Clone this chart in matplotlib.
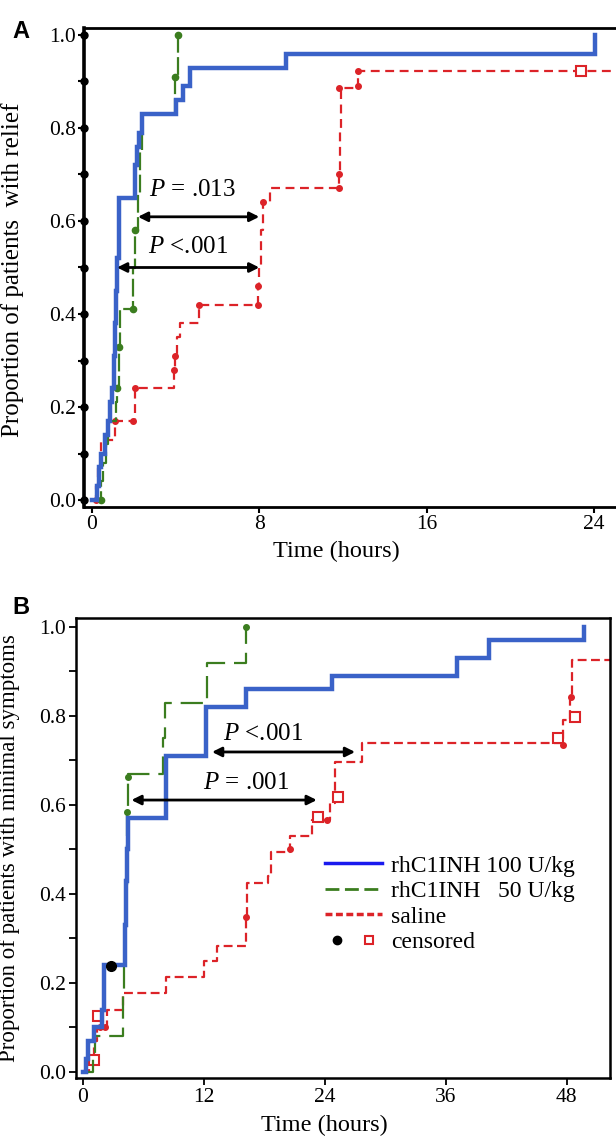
import numpy as np
import matplotlib
matplotlib.use("Agg")
import matplotlib.pyplot as plt
from matplotlib.lines import Line2D
from matplotlib.legend_handler import HandlerTuple

plt.rcParams['font.family'] = ['Liberation Serif', 'DejaVu Serif']
plt.rcParams['mathtext.fontset'] = 'custom'
plt.rcParams['mathtext.rm'] = 'Liberation Serif'
plt.rcParams['mathtext.it'] = 'Liberation Serif:italic'

BLUE = '#3a62c8'
GREEN = '#3b7d1f'
RED = '#dc2328'

# Panel A: time to onset of relief (hours) vs proportion
a_blue_t = [0, 0.25, 0.35, 0.45, 0.6, 0.75, 0.85, 0.95, 1.05, 1.1, 1.15, 1.2, 1.3,
            2.05, 2.15, 2.25, 2.4, 4.0, 4.35, 4.7, 9.3, 24.05]
a_blue_s = [0, 0.03, 0.07, 0.10, 0.14, 0.17, 0.21, 0.24, 0.31, 0.38, 0.45, 0.52, 0.65,
            0.72, 0.76, 0.79, 0.83, 0.86, 0.89, 0.93, 0.96, 1.0]

a_green_t = [0, 0.45, 0.55, 0.65, 0.75, 1.15, 1.2, 1.3, 1.35, 1.96, 2.06, 2.2, 2.3, 2.4,
             3.95, 4.1]
a_green_s = [0, 0.04, 0.08, 0.12, 0.17, 0.21, 0.24, 0.33, 0.41, 0.50, 0.58, 0.66, 0.75, 0.83,
             0.91, 1.0]
a_green_dot_t = [0.45, 1.2, 1.3, 1.96, 2.06, 3.95, 4.1]
a_green_dot_s = [0.0, 0.24, 0.33, 0.41, 0.58, 0.91, 1.0]

a_red_t = [0, 0.2, 0.3, 0.45, 1.1, 2.05, 3.9, 3.95, 4.05, 4.2, 5.1, 7.95, 8.0, 8.1, 8.2,
           8.5, 11.8, 11.85, 11.9, 12.7, 25.2]
a_red_s = [0, 0.03, 0.07, 0.13, 0.17, 0.24, 0.28, 0.31, 0.35, 0.38, 0.42, 0.46, 0.50, 0.58,
           0.64, 0.67, 0.70, 0.80, 0.885, 0.923, 0.923]
a_red_dot_t = [0.2, 1.1, 1.95, 2.05, 3.9, 3.95, 5.1, 7.95, 7.95, 8.2, 11.8, 11.8, 11.8, 12.7, 12.7]
a_red_dot_s = [0.0, 0.17, 0.17, 0.24, 0.28, 0.31, 0.42, 0.42, 0.46, 0.64, 0.67, 0.70, 0.885, 0.89, 0.923]
a_red_cens_t = [23.4]
a_red_cens_s = [0.923]

# Panel B: time to minimal symptoms
b_blue_t = [0, 0.3, 0.5, 0.8, 1.1, 1.5, 1.9, 2.1, 4.2, 4.3, 4.4, 4.5, 8.2, 12.2, 16.2, 24.7,
            37.1, 40.3, 49.7]
b_blue_s = [0, 0.03, 0.07, 0.07, 0.10, 0.10, 0.14, 0.24, 0.33, 0.43, 0.50, 0.57, 0.71, 0.82,
            0.86, 0.89, 0.93, 0.97, 1.0]
b_blue_cens_t = [2.75]
b_blue_cens_s = [0.238]

b_green_t = [0, 1.0, 1.2, 4.0, 4.1, 4.2, 4.3, 4.35, 4.4, 4.5, 7.9, 8.1, 12.3, 16.2]
b_green_s = [0, 0.04, 0.08, 0.17, 0.25, 0.33, 0.42, 0.50, 0.58, 0.67, 0.75, 0.83, 0.92, 1.0]
b_green_dot_t = [4.4, 4.5, 16.2]
b_green_dot_s = [0.585, 0.663, 1.0]

b_red_t = [0, 0.6, 1.1, 1.4, 2.4, 4.0, 8.2, 12.0, 13.3, 16.2, 16.3, 18.4, 18.7, 20.5,
           22.7, 24.5, 25.0, 27.7, 47.6, 48.3, 48.5, 52.5]
b_red_s = [0, 0.03, 0.07, 0.10, 0.14, 0.177, 0.213, 0.249, 0.283, 0.349, 0.425, 0.44, 0.495,
           0.53, 0.566, 0.604, 0.697, 0.739, 0.79, 0.843, 0.926, 0.926]
b_red_dot_t = [1.7, 2.2, 16.2, 20.5, 24.2, 47.6, 48.4]
b_red_dot_s = [0.10, 0.10, 0.349, 0.50, 0.566, 0.735, 0.843]
b_red_cens_t = [1.1, 1.5, 23.3, 25.3, 47.1, 48.8]
b_red_cens_s = [0.027, 0.125, 0.573, 0.618, 0.75, 0.798]

legend_labels = ['rhC1INH 100 U/kg', 'rhC1INH   50 U/kg', 'saline', 'censored']

W, H = 616, 1142
fig = plt.figure(figsize=(W / 100, H / 100), dpi=100)


def px_axes(l, t, r, b):
    return fig.add_axes([l / W, 1 - b / H, (r - l) / W, (b - t) / H])


TICKFS = 15.5

# ---------------- Panel A ----------------
ax = px_axes(84, 28, 617, 507)
ax.step(a_red_t, a_red_s, where='post', color=RED, lw=1.6, ls=(0, (4, 2.5)))
ax.plot(a_red_dot_t, a_red_dot_s, 'o', color=RED, ms=4)
ax.plot(a_red_cens_t, a_red_cens_s, 's', mfc='white', mec=RED, mew=1.5, ms=7)
ax.step(a_green_t, a_green_s, where='post', color=GREEN, lw=1.6, ls=(0, (8, 2)))
ax.plot(a_green_dot_t, a_green_dot_s, 'o', color=GREEN, ms=4.5)
ax.step(a_blue_t, a_blue_s, where='post', color=BLUE, lw=3.2, solid_joinstyle='miter')

ax.set_xlim(-0.38, 25.1)
ax.set_ylim(-0.015, 1.015)
ax.set_xticks([0, 8, 16, 24])
ax.set_yticks(np.arange(0, 1.01, 0.2))
ax.set_yticks(np.arange(0.1, 1.0, 0.2), minor=True)
ax.set_yticklabels(['0.0', '0.2', '0.4', '0.6', '0.8', '1.0'])
ax.tick_params(labelsize=TICKFS, direction='out', length=4, width=1.5, pad=2)
ax.tick_params(axis='y', which='minor', length=4, width=1.5)
ax.spines['right'].set_visible(False)
ax.spines['left'].set_linewidth(2.6)
ax.spines['top'].set_linewidth(2.0)
ax.spines['bottom'].set_linewidth(2.0)
# dots along the y axis
ax.plot(np.zeros(11), np.arange(0, 1.01, 0.1), 'o', color='black', ms=5,
        transform=ax.get_yaxis_transform(), clip_on=False, zorder=5)

ax.set_xlabel('Time (hours)', fontsize=17.5)
ax.xaxis.set_label_coords((336 - 84) / (617 - 84), -0.07)
ax.set_ylabel('Proportion of patients  with relief', fontsize=18)
ax.yaxis.set_label_coords(-(84 - 24) / (617 - 84), (507 - 270) / (507 - 28))

arrow = dict(arrowstyle='<|-|>', color='black', lw=2, mutation_scale=14, shrinkA=0, shrinkB=0)
ax.annotate('', xy=(2.2, 0.609), xytext=(8.0, 0.609), arrowprops=arrow)
ax.annotate('', xy=(1.2, 0.50), xytext=(8.0, 0.50), arrowprops=arrow)
ax.text(4.78, 0.667, r'$P$ = .013', fontsize=18, ha='center', va='center')
ax.text(4.6, 0.544, r'$P$ <.001', fontsize=18, ha='center', va='center')

fig.text(12 / W, 1 - 32 / H, 'A', fontsize=17, fontweight='bold', family='Liberation Sans',
         va='center', ha='left')

# ---------------- Panel B ----------------
bx = px_axes(76, 618, 610, 1078)
bx.step(b_red_t, b_red_s, where='post', color=RED, lw=1.6, ls=(0, (4, 2)))
bx.plot(b_red_dot_t, b_red_dot_s, 'o', color=RED, ms=4)
bx.plot(b_red_cens_t, b_red_cens_s, 's', mfc='white', mec=RED, mew=1.5, ms=7)
bx.step(b_green_t, b_green_s, where='post', color=GREEN, lw=1.6, ls=(0, (10, 4)))
bx.plot(b_green_dot_t, b_green_dot_s, 'o', color=GREEN, ms=4)
bx.step(b_blue_t, b_blue_s, where='post', color=BLUE, lw=3.2, solid_joinstyle='miter')
bx.plot(b_blue_cens_t, b_blue_cens_s, 'o', color='black', ms=7, zorder=6)

bx.set_xlim(-0.7, 52.3)
bx.set_ylim(-0.0135, 1.02)
bx.set_xticks([0, 12, 24, 36, 48])
bx.set_yticks(np.arange(0, 1.01, 0.2))
bx.set_yticks(np.arange(0.1, 1.0, 0.2), minor=True)
bx.set_yticklabels(['0.0', '0.2', '0.4', '0.6', '0.8', '1.0'])
bx.tick_params(labelsize=TICKFS, direction='out', length=5, width=1.3, pad=2)
bx.tick_params(axis='y', which='minor', length=5, width=1.3)
for s in bx.spines.values():
    s.set_linewidth(1.8)

bx.set_xlabel('Time (hours)', fontsize=17.5)
bx.xaxis.set_label_coords((324 - 76) / (610 - 76), -0.08)
bx.set_ylabel('Proportion of patients with minimal symptoms', fontsize=16.5)
bx.yaxis.set_label_coords(-(76 - 20) / (610 - 76), (1078 - 848) / (1078 - 618))

bx.annotate('', xy=(12.8, 0.719), xytext=(27.0, 0.719), arrowprops=arrow)
bx.annotate('', xy=(4.8, 0.611), xytext=(23.2, 0.611), arrowprops=arrow)
bx.text(17.9, 0.76, r'$P$ <.001', fontsize=18, ha='center', va='center')
bx.text(16.2, 0.65, r'$P$ = .001', fontsize=18, ha='center', va='center')

h_blue = Line2D([], [], color='#1a1aee', lw=2.5)
h_green = Line2D([], [], color=GREEN, lw=2, ls=(0, (5, 2)))
h_red = Line2D([], [], color=RED, lw=2.5, ls=(0, (2, 1)))
h_dot = Line2D([], [], marker='o', color='black', ls='none', ms=6)
h_sq = Line2D([], [], marker='s', mfc='white', mec=RED, mew=1.5, ls='none', ms=6)
bx.legend([h_blue, h_green, h_red, (h_dot, h_sq)], legend_labels,
          handler_map={tuple: HandlerTuple(ndivide=None, pad=0.3)},
          loc='upper left', bbox_to_anchor=((325 - 76) / 534, 1 - (855 - 618) / 460),
          frameon=False, fontsize=17, handlelength=2.4, handletextpad=0.4,
          labelspacing=0.17, borderpad=0, borderaxespad=0)

fig.text(12 / W, 1 - 607 / H, 'B', fontsize=17, fontweight='bold', family='Liberation Sans',
         va='center', ha='left')

fig.savefig('out.png', dpi=100)
